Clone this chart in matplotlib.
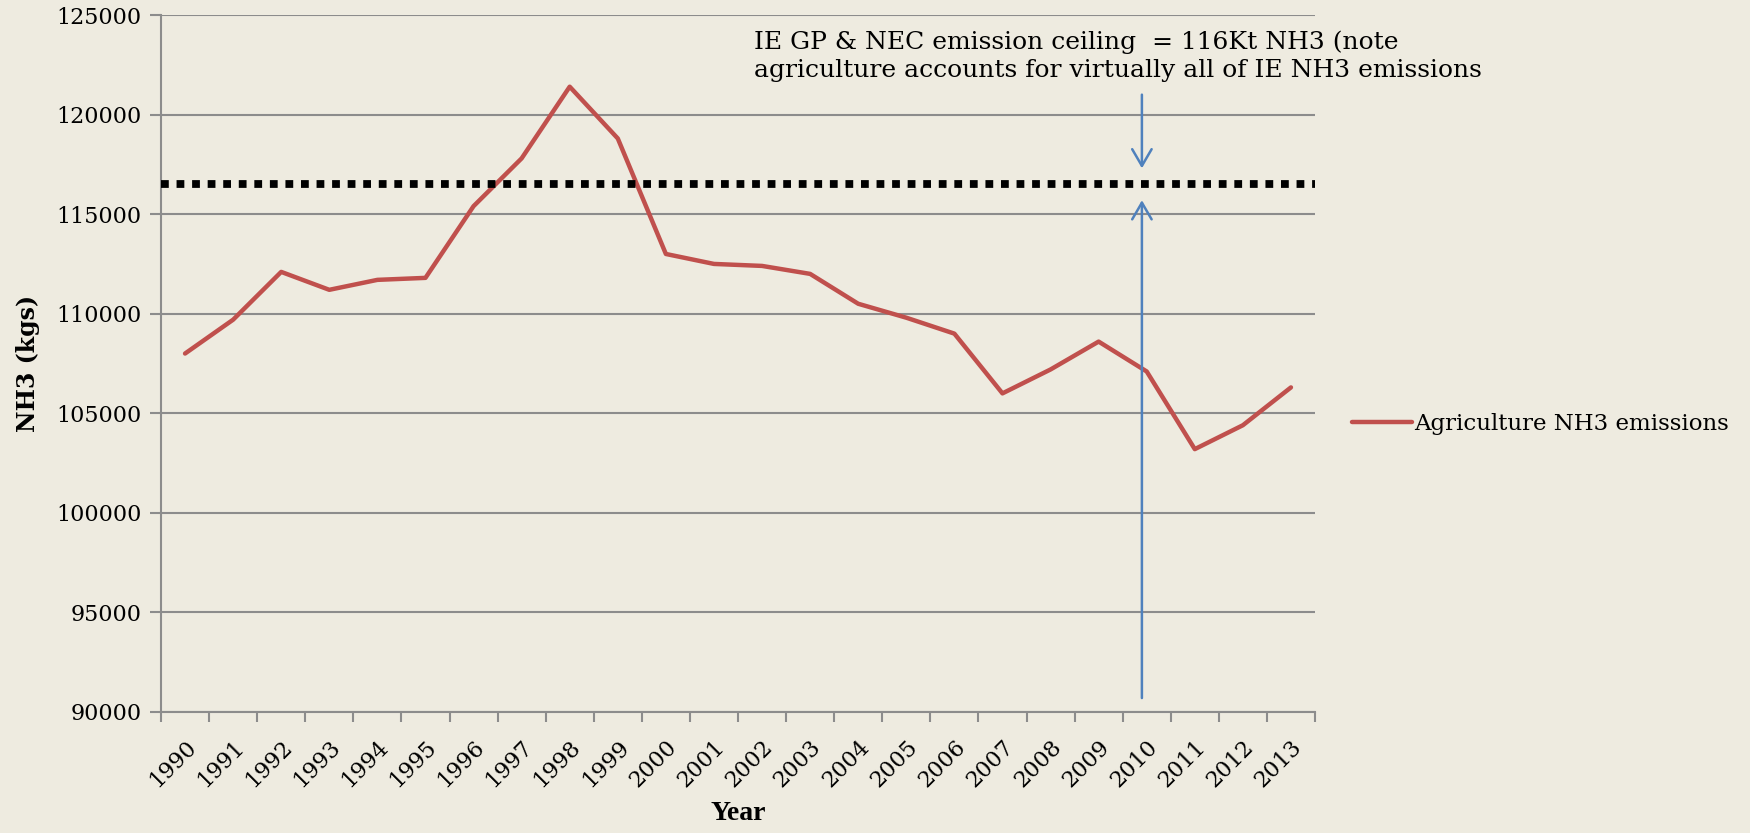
import matplotlib
matplotlib.use("Agg")
import matplotlib.pyplot as plt
import numpy as np

years = [str(y) for y in range(1990, 2014)]
emissions = [108000, 109700, 112100, 111200, 111700, 111800, 115400, 117800,
             121400, 118800, 113000, 112500, 112400, 112000, 110500, 109800,
             109000, 106000, 107200, 108600, 107100, 103200, 104400, 106300]
ceiling = 116500
series_label = "Agriculture NH3 emissions"
note = "IE GP & NEC emission ceiling  = 116Kt NH3 (note\nagriculture accounts for virtually all of IE NH3 emissions"
yticks = [90000, 95000, 100000, 105000, 110000, 115000, 120000, 125000]

BG = "#EEEBE0"
RED = "#C0504D"
BLUE = "#4F81BD"
GRID = "#8C8C8C"
SERIF = ["DejaVu Serif"]

fig = plt.figure(figsize=(17.5, 8.33), dpi=100, facecolor=BG)
ax = fig.add_axes([161/1750, 1-712/833, (1315-161)/1750, (712-15)/833])
ax.set_facecolor(BG)

x = np.arange(len(years))
ax.plot(x, emissions, color=RED, lw=3.2, solid_capstyle="round", solid_joinstyle="round",
        label=series_label, zorder=3)
ax.axhline(ceiling, color="black", lw=5.6, linestyle=(0, (1, 1)), dash_capstyle="butt", zorder=4)

ax.set_xlim(-0.5, len(years) - 0.5)
ax.set_ylim(yticks[0], yticks[-1])
ax.set_yticks(yticks)
ax.set_yticklabels([str(v) for v in yticks], fontfamily=SERIF, fontsize=16)
ax.yaxis.grid(True, color=GRID, lw=1.5)
ax.set_axisbelow(True)
ax.tick_params(axis="y", length=8, width=1.5, color=GRID, pad=6)

ax.set_xticks(x)
ax.set_xticklabels(years, rotation=45, ha="right", va="top", rotation_mode="anchor",
                   fontfamily=SERIF, fontsize=16)
ax.tick_params(axis="x", which="major", length=0, pad=17)
ax.set_xticks(np.arange(-0.5, len(years)), minor=True)
ax.tick_params(axis="x", which="minor", length=7, width=1.5, color=GRID)

for s in ["top", "right"]:
    ax.spines[s].set_visible(False)
for s in ["left", "bottom"]:
    ax.spines[s].set_color(GRID)
    ax.spines[s].set_linewidth(1.5)

ax.set_xlabel("Year", fontfamily="Liberation Serif", fontweight="bold", fontsize=20, labelpad=7)
ax.set_ylabel("NH3 (kgs)", fontfamily=SERIF, fontweight="bold", fontsize=17, labelpad=12)

# blue arrows
ax.annotate("", xy=(19.9, 115700), xytext=(19.9, 90700),
            arrowprops=dict(arrowstyle="->,head_length=0.6,head_width=0.35", color=BLUE, lw=1.8,
                            shrinkA=0, shrinkB=0, mutation_scale=20), zorder=5)
ax.annotate("", xy=(19.9, 117300), xytext=(19.9, 121000),
            arrowprops=dict(arrowstyle="->,head_length=0.6,head_width=0.35", color=BLUE, lw=1.8,
                            shrinkA=0, shrinkB=0, mutation_scale=20), zorder=5)

fig.text(754/1750, 1-30/833, note, fontfamily=SERIF, fontsize=18, va="top", ha="left",
         linespacing=1.3)

ax.legend(loc="center left", bbox_to_anchor=(1352/1750, 1-424/833), bbox_transform=fig.transFigure,
          frameon=False, prop=dict(family=SERIF, size=16.5), handlelength=2.6, handletextpad=0.1,
          borderpad=0, borderaxespad=0)

fig.savefig("out.png", dpi=100, facecolor=BG)
